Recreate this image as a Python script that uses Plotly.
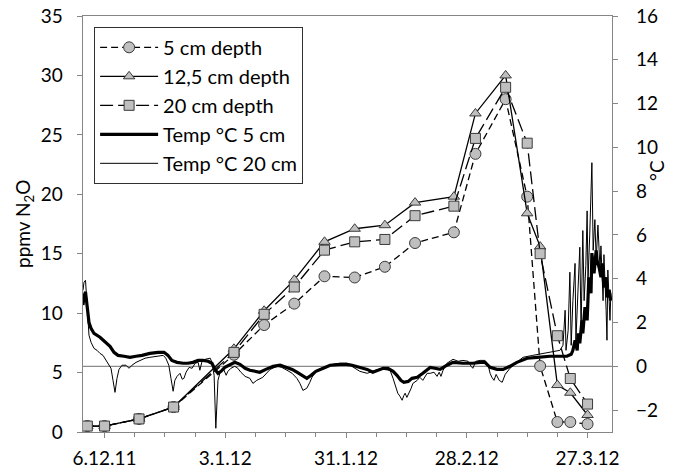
import pandas as pd
import plotly.graph_objects as go

# ---------------- data ----------------
sample_dates = ['2011-12-02', '2011-12-06', '2011-12-14', '2011-12-22', '2012-01-05',
                '2012-01-12', '2012-01-19', '2012-01-26', '2012-02-02', '2012-02-09',
                '2012-02-16', '2012-02-25', '2012-03-01', '2012-03-08', '2012-03-13',
                '2012-03-16', '2012-03-20', '2012-03-23', '2012-03-27']
n2o_5cm = [0.5, 0.5, 1.1, 2.1, 6.5, 9.0, 10.8, 13.1, 13.0, 13.9, 15.9, 16.8,
           23.4, 28.0, 19.8, 5.55, 0.84, 0.84, 0.67]
n2o_12cm = [0.5, 0.5, 1.1, 2.1, 7.0, 10.2, 12.8, 16.0, 17.1, 17.4, 19.3, 19.8,
            26.8, 30.0, 18.4, 15.6, 3.95, 3.3, 1.43]
n2o_20cm = [0.5, 0.5, 1.1, 2.1, 6.7, 9.9, 12.2, 15.3, 16.0, 16.2, 18.2, 19.0,
            24.7, 29.0, 24.3, 15.0, 8.1, 4.5, 2.35]

temp_start = '2011-12-01'
# Temp 5 cm: days since temp_start, value in °C
t5_day = [0.0, 0.23, 0.58, 0.93, 1.39, 1.86, 2.55, 3.94, 5.1, 6.26, 7.19, 8.12, 9.51, 10.9,
          12.3, 13.7, 15.5, 17.4, 18.8, 19.7, 20.6, 21.8, 23.2, 24.3, 25.5, 26.7, 27.8, 29.0,
          29.9, 30.6, 31.3, 32.0, 32.9, 34.1, 35.2, 36.4, 37.6, 38.7, 39.9, 41.0, 42.4, 44.1,
          45.7, 47.1, 48.5, 49.6, 50.8, 51.9, 52.9, 54.0, 55.7, 57.3, 59.6, 61.2, 62.4, 63.5,
          64.7, 65.9, 67.2, 68.4, 69.6, 70.7, 71.9, 72.8, 73.7, 74.4, 75.4, 76.3, 77.5, 78.8,
          80.5, 81.6, 82.8, 84.4, 85.8, 88.1, 90.4, 92.1, 93.2, 94.4, 96.0, 97.4, 99.0, 100.6,
          103.0, 105.3, 108.3, 110.6, 112.2, 113.2, 113.6, 114.1, 114.6, 114.8, 115.2, 115.7,
          115.9, 116.4, 116.9, 117.3, 117.8, 118.0, 118.5, 119.0, 119.2, 119.7, 120.1, 120.4,
          120.8, 121.3, 121.5, 122.0, 122.4]
t5_val = [2.8, 3.2, 3.4, 2.8, 2.0, 1.74, 1.5, 1.33, 1.14, 0.91, 0.64, 0.5, 0.46, 0.41,
          0.46, 0.5, 0.59, 0.64, 0.64, 0.5, 0.27, 0.18, 0.14, 0.14, 0.18, 0.27, 0.27, 0.23,
          0.14, -0.14, -0.32, -0.23, -0.05, 0.09, 0.18, 0.09, -0.09, -0.18, -0.23, -0.27, -0.14, 0.0,
          0.05, -0.05, -0.14, -0.27, -0.41, -0.55, -0.41, -0.23, -0.09, 0.05, 0.09, 0.09, 0.05, 0.0,
          -0.09, -0.14, -0.27, -0.18, -0.09, -0.09, -0.23, -0.41, -0.64, -0.73, -0.69, -0.55, -0.5, -0.32,
          -0.05, -0.09, -0.14, 0.05, 0.18, 0.14, 0.14, 0.18, 0.18, -0.05, -0.14, -0.14, 0.0, 0.18,
          0.37, 0.41, 0.46, 0.46, 0.46, 0.55, 0.73, 1.19, 0.73, 1.51, 1.05, 2.1,
          1.51, 2.7, 2.1, 4.07, 3.34, 5.17, 4.25, 5.3, 4.85, 4.5, 4.07, 4.7,
          3.6, 4.07, 3.15, 3.5, 3.0]
# Temp 20 cm
t20_day = [0.0, 0.23, 0.58, 0.93, 1.39, 1.86, 2.55, 3.25, 3.94, 4.64, 5.33, 6.03, 6.49, 6.96,
           7.42, 7.88, 8.35, 9.04, 9.97, 10.67, 11.36, 12.29, 13.2, 14.4, 15.5, 17.2, 18.6, 19.2,
           19.9, 20.4, 20.9, 21.3, 21.8, 22.5, 23.0, 23.4, 23.9, 24.6, 25.3, 26.0, 26.7, 27.1,
           27.6, 28.3, 29.5, 29.9, 30.4, 30.8, 31.3, 31.8, 32.5, 33.2, 33.6, 34.3, 35.2, 35.9,
           36.6, 37.6, 38.7, 39.4, 40.3, 41.7, 43.4, 45.0, 46.1, 47.3, 48.5, 49.6, 50.3, 51.0,
           51.9, 52.6, 53.1, 54.3, 55.7, 58.0, 59.6, 61.2, 62.6, 64.2, 65.9, 67.2, 68.4, 69.6,
           71.2, 71.9, 72.6, 73.0, 73.5, 74.0, 74.4, 74.7, 75.1, 75.6, 76.1, 76.5, 77.5, 78.1,
           78.8, 79.8, 80.5, 81.4, 82.1, 82.6, 83.0, 83.5, 84.4, 85.8, 87.0, 88.1, 89.3, 90.0,
           90.4, 91.1, 92.1, 93.2, 93.9, 94.4, 94.8, 95.3, 95.8, 96.5, 97.2, 97.9, 99.0, 100.6,
           102.0, 104.3, 106.7, 108.3, 109.5, 110.6, 111.3, 111.8, 112.0, 112.5, 112.9, 113.2,
           113.6, 114.1, 114.3, 114.8, 115.2, 115.5, 115.9, 116.2, 116.6, 116.9, 117.1, 117.5,
           118.0, 118.3, 118.7, 119.0, 119.4, 119.9, 120.1, 120.6, 120.8, 121.3, 121.5, 121.7,
           122.2, 122.4]
t20_val = [3.47, 3.84, 3.93, 3.0, 1.42, 1.1, 0.82, 0.73, 0.59, 0.5, 0.27, 0.09, -0.09, -0.64,
           -1.19, -0.55, -0.14, 0.05, 0.05, -0.09, 0.05, 0.18, 0.27, 0.37, 0.41, 0.46, 0.5, 0.37,
           0.05, -0.55, -1.14, -0.64, -0.46, -0.32, -0.59, -0.55, -0.27, -0.05, -0.09, 0.14, 0.18, -0.18,
           0.23, 0.32, 0.37, 0.18, -0.41, -2.83, -0.64, -0.27, -0.09, -0.41, -0.23, -0.09, 0.0, -0.09,
           -0.27, -0.46, -0.55, -0.78, -0.64, -0.5, -0.14, 0.0, -0.05, -0.18, -0.32, -0.55, -0.78, -1.1,
           -1.0, -0.73, -0.5, -0.18, -0.05, 0.09, 0.14, 0.14, -0.05, -0.23, -0.32, -0.23, -0.14, -0.14,
           -0.18, -0.55, -1.0, -1.23, -1.37, -1.55, -1.33, -1.23, -1.42, -1.23, -1.0, -0.78, -0.64, -0.5,
           -0.64, -0.32, -0.32, -0.27, -0.46, -0.27, -0.46, -0.18, 0.14, 0.32, 0.23, 0.27, 0.23, 0.0,
           -0.09, 0.23, 0.27, 0.27, 0.09, -0.32, -0.5, -0.64, -0.37, -0.64, -0.73, -0.37, -0.09, 0.18,
           0.41, 0.5, 0.59, 0.64, 0.69, 0.73, 0.96, 2.56, 0.73, 1.65, 4.3, 0.96,
           3.0, 4.7, 1.19, 3.47, 5.44, 1.65, 6.2, 3.0, 4.6, 7.1, 3.9, 6.0,
           9.3, 5.3, 6.7, 4.85, 6.45, 4.4, 5.5, 3.0, 5.1, 2.56, 1.19, 4.4,
           2.1, 3.34]

x_tick_dates = ['2011-12-06', '2012-01-03', '2012-01-31', '2012-02-28', '2012-03-27']
x_tick_labels = ['6.12.11', '3.1.12', '31.1.12', '28.2.12', '27.3.12']
y1_ticks = [0, 5, 10, 15, 20, 25, 30, 35]
y2_ticks = [-2, 0, 2, 4, 6, 8, 10, 12, 14, 16]

# ---------------- figure ----------------
t0 = pd.Timestamp(temp_start)
t5_time = [t0 + pd.Timedelta(days=d) for d in t5_day]
t20_time = [t0 + pd.Timedelta(days=d) for d in t20_day]

FONT = 'Lato'
MFILL = '#BFBFBF'
MLINE = dict(color='#3a3a3a', width=1)
AXC = '#868686'

fig = go.Figure()
fig.add_trace(go.Scatter(x=sample_dates, y=n2o_5cm, name='5 cm depth', mode='lines+markers',
                         line=dict(color='black', width=1.3, dash='7px,4px'),
                         marker=dict(symbol='circle', size=11, color=MFILL, line=MLINE)))
fig.add_trace(go.Scatter(x=sample_dates, y=n2o_12cm, name='12,5 cm depth', mode='lines+markers',
                         line=dict(color='black', width=1.3),
                         marker=dict(symbol='triangle-up', size=10, color=MFILL, line=MLINE)))
fig.add_trace(go.Scatter(x=sample_dates, y=n2o_20cm, name='20 cm depth', mode='lines+markers',
                         line=dict(color='black', width=1.3, dash='13px,5px'),
                         marker=dict(symbol='square', size=10, color=MFILL, line=MLINE)))
fig.add_trace(go.Scatter(x=t5_time, y=t5_val, name='Temp °C 5 cm', mode='lines', yaxis='y2',
                         line=dict(color='black', width=3.2)))
fig.add_trace(go.Scatter(x=t20_time, y=t20_val, name='Temp °C 20 cm', mode='lines', yaxis='y2',
                         line=dict(color='black', width=1)))

fig.add_shape(type='line', xref='paper', x0=0, x1=1, yref='y2', y0=0, y1=0,
              line=dict(color='#8c8c8c', width=1.2), layer='below')

fig.update_layout(
    width=676, height=470, autosize=False,
    margin=dict(l=83, r=64, t=16, b=38, autoexpand=False),
    paper_bgcolor='white', plot_bgcolor='white',
    font=dict(family=FONT, size=19, color='black'),
    showlegend=True,
    legend=dict(x=0.021, y=0.974, xanchor='left', yanchor='top',
                bgcolor='white', bordercolor='#303030', borderwidth=1,
                font=dict(family=FONT, size=20, color='black'),
                itemwidth=58, tracegroupgap=0),
    xaxis=dict(type='date', automargin=False,
               range=[pd.Timestamp('2011-12-01'), pd.Timestamp('2012-04-01 16:00')],
               tickmode='array', tickvals=x_tick_dates, ticktext=x_tick_labels,
               ticks='outside', ticklen=5, tickcolor=AXC, tickwidth=1,
               showline=True, linecolor=AXC, linewidth=1.3, mirror=True,
               showgrid=False, zeroline=False,
               minor=dict(tickmode='linear', tick0='2011-12-06', dtick=7 * 86400000,
                          ticks='outside', ticklen=4, tickcolor=AXC, showgrid=False),
               tickfont=dict(size=19), ticklabelstandoff=4),
    yaxis=dict(range=[0, 35], tickmode='array', tickvals=y1_ticks, automargin=False,
               ticks='outside', ticklen=5, tickcolor=AXC,
               showline=True, linecolor=AXC, linewidth=1.3,
               showgrid=False, zeroline=False, tickfont=dict(size=19),
               ticklabelstandoff=10),
    yaxis2=dict(range=[-3, 16], tickmode='array', tickvals=y2_ticks, automargin=False,
                overlaying='y', side='right',
                ticks='outside', ticklen=5, tickcolor=AXC,
                showline=True, linecolor=AXC, linewidth=1.3,
                showgrid=False, zeroline=False, tickfont=dict(size=19),
                ticklabelstandoff=14),
    annotations=[
        dict(text='ppmv N<sub>2</sub>O', x=-0.1115, y=0.5, xref='paper', yref='paper',
             xanchor='center', yanchor='middle', textangle=-90, showarrow=False,
             font=dict(family=FONT, size=19, color='black')),
        dict(text='°C', x=1.085, y=0.63, xref='paper', yref='paper',
             xanchor='center', yanchor='middle', textangle=-90, showarrow=False,
             font=dict(family=FONT, size=19, color='black')),
    ],
)

fig.write_html('out.html', config={'displayModeBar': False, 'staticPlot': True},
               post_script="document.body.style.margin='0';document.body.style.overflow='hidden';")
